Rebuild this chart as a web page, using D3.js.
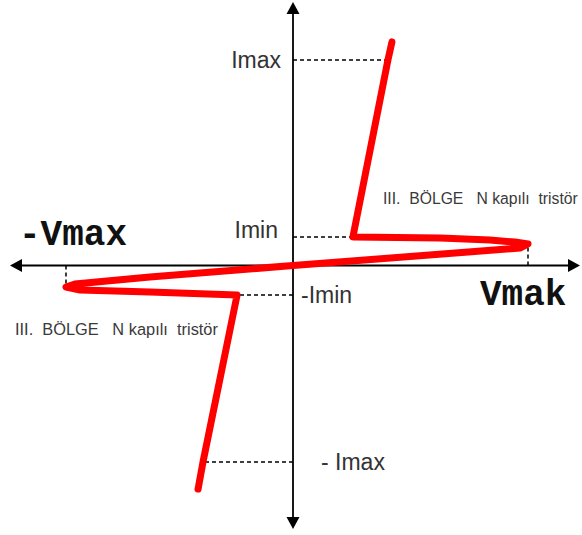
<!DOCTYPE html>
<html>
<head>
<meta charset="utf-8">
<script src="https://cdn.jsdelivr.net/npm/d3@7"></script>
<style>
  html, body { margin: 0; padding: 0; background: #fff; }
  svg { display: block; }
</style>
</head>
<body>
<script>
// ---- data (arbitrary units) ----
const curveV = [4.21, 4.04, 2.55, 6.26, 8.38, 9.45, 10.0, 9.66, 0.0, -6.09, -9.28, -9.66, -9.06, -6.09, -2.38, -3.83, -4.04];
const curveI = [10.88, 10.0, 1.39, 1.34, 1.24, 1.14, 1.05, 0.85, 0.0, -0.56, -0.90, -1.05, -1.19, -1.29, -1.44, -9.56, -10.88];

const levelNames = ["Imax", "Imin", "-Imin", "- Imax"];
const levelI     = [10.0, 1.39, -1.44, -9.56];
const levelV     = [4.04, 2.55, -2.38, -3.83];

const voltNames = ["Vmak", "-Vmax"];
const voltV     = [10.0, -9.66];
const voltI     = [1.05, -1.05];

const regionText = "III.\u00A0 BÖLGE\u00A0\u00A0 N kapılı\u00A0 tristör";

// ---- layout ----
const W = 582, H = 535;
const svg = d3.select("body").append("svg").attr("width", W).attr("height", H);

const x = d3.scaleLinear().domain([-10, 10]).range([58, 528]);
const y = d3.scaleLinear().domain([-10, 10]).range([471, 60]);
const x0 = x(0), y0 = y(0);

// axes
const ax = svg.append("g").attr("stroke", "#000").attr("stroke-width", 1.8);
ax.append("line").attr("x1", 18).attr("x2", 570).attr("y1", y0).attr("y2", y0);
ax.append("line").attr("x1", x0).attr("x2", x0).attr("y1", 10).attr("y2", 520);
const arr = svg.append("g").attr("fill", "#000");
arr.append("path").attr("d", `M${x0},2 L${x0-6.5},14 L${x0+6.5},14 Z`);
arr.append("path").attr("d", `M${x0},529 L${x0-6.5},517 L${x0+6.5},517 Z`);
arr.append("path").attr("d", `M10,${y0} L22,${y0-6.5} L22,${y0+6.5} Z`);
arr.append("path").attr("d", `M580,${y0} L568,${y0-6.5} L568,${y0+6.5} Z`);

// dashed guides
const dash = svg.append("g").attr("stroke", "#000").attr("stroke-width", 1.5)
  .attr("stroke-dasharray", "4,3").attr("fill", "none");
levelI.forEach((iv, k) => {
  dash.append("line").attr("x1", x0).attr("x2", x(levelV[k]))
    .attr("y1", y(iv)).attr("y2", y(iv));
});
voltV.forEach((vv, k) => {
  dash.append("line").attr("x1", x(vv)).attr("x2", x(vv))
    .attr("y1", y0).attr("y2", y(voltI[k]));
});

// red characteristic
const pts = curveV.map((v, k) => [v, curveI[k]]);
const line = d3.line().x(d => x(d[0])).y(d => y(d[1])).curve(d3.curveLinear);
svg.append("path").attr("d", line(pts)).attr("fill", "none")
  .attr("stroke", "#ff0000").attr("stroke-width", 7)
  .attr("stroke-linejoin", "round").attr("stroke-linecap", "round");

// current labels
const lab = svg.append("g").attr("font-family", "'Liberation Sans', Arial, sans-serif")
  .attr("font-size", 23).attr("fill", "#333");
lab.append("text").attr("x", 281).attr("y", y(levelI[0]) + 8).attr("text-anchor", "end").text(levelNames[0]);
lab.append("text").attr("x", 278).attr("y", y(levelI[1]) + 1).attr("text-anchor", "end").text(levelNames[1]);
lab.append("text").attr("x", 301).attr("y", y(levelI[2]) + 8).text(levelNames[2]);
lab.append("text").attr("x", 321).attr("y", y(levelI[3]) + 8).text(levelNames[3]);

// voltage labels
const vl = svg.append("g").attr("font-family", "'Courier New', 'Liberation Mono', monospace")
  .attr("font-weight", "bold").attr("font-size", 36).attr("fill", "#111");
vl.append("text").attr("x", 480).attr("y", 305).text(voltNames[0]);
vl.append("text").attr("x", 19).attr("y", 245).text(voltNames[1]);

// region notes (condensed horizontally by a scale transform)
function note(tx, ty, width) {
  const g = svg.append("g").attr("transform", `translate(${tx},${ty})`);
  const t = g.append("text").attr("font-family", "'Liberation Sans', Arial, sans-serif")
    .attr("font-size", 17).attr("fill", "#3a3a3a").text(regionText);
  const w = t.node().getComputedTextLength();
  t.attr("transform", `scale(${width / w},1)`);
}
note(15, 335, 203);
note(383, 204, 195);
</script>
</body>
</html>
